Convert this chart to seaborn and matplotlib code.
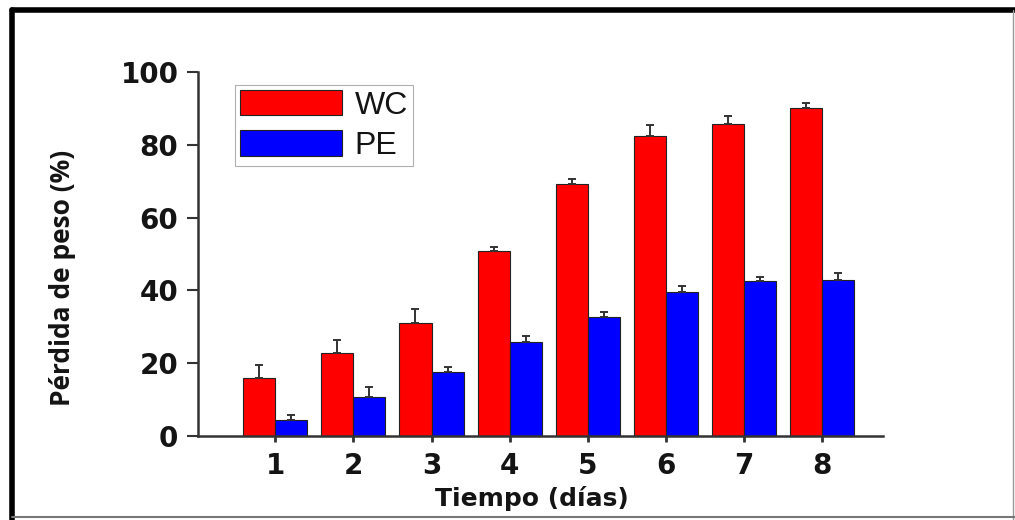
import matplotlib
matplotlib.use("Agg")
import matplotlib.pyplot as plt
import seaborn as sns
import pandas as pd
import numpy as np
from matplotlib.lines import Line2D

# ---- data ----
dias = ["1", "2", "3", "4", "5", "6", "7", "8"]
wc_vals = [15.9, 22.7, 31.0, 50.7, 69.3, 82.5, 85.8, 90.1]
wc_err = [3.6, 3.6, 3.8, 1.3, 1.4, 3.0, 2.1, 1.4]
pe_vals = [4.4, 10.7, 17.5, 25.8, 32.6, 39.7, 42.5, 43.0]
pe_err = [1.4, 2.7, 1.4, 1.6, 1.6, 1.4, 1.3, 1.7]
series = ["WC", "PE"]
yticks = [0, 20, 40, 60, 80, 100]

df = pd.DataFrame({
    "Tiempo": dias * 2,
    "Serie": [series[0]] * len(dias) + [series[1]] * len(dias),
    "valor": wc_vals + pe_vals,
})
errs = {series[0]: wc_err, series[1]: pe_err}

sns.set_theme(style="white")
plt.rcParams["font.family"] = ["DejaVu Sans"]

fig = plt.figure(figsize=(10.15, 5.2), dpi=100)
ax = fig.add_axes([0.195, 0.1615, 0.675, 0.700])

palette = {series[0]: "#ff0000", series[1]: "#0000ff"}
sns.barplot(data=df, x="Tiempo", y="valor", hue="Serie", order=dias,
            hue_order=series, palette=palette, width=0.82, saturation=1,
            edgecolor="#222222", linewidth=0.8, errorbar=None, ax=ax,
            legend=False)

# error bars (upper part only)
for cont, name in zip(ax.containers, series):
    xs = [b.get_x() + b.get_width() / 2 for b in cont]
    ys = [b.get_height() for b in cont]
    e = errs[name]
    ax.errorbar(xs, ys, yerr=[np.zeros(len(e)), e], fmt="none",
                ecolor="#333333", elinewidth=1.4, capsize=3, capthick=1.4,
                zorder=3)

ax.set_ylim(0, 100)
ax.set_xlim(-0.99, 7.78)
ax.set_yticks(yticks)
ax.set_yticklabels([str(t) for t in yticks])

for s in ["top", "right"]:
    ax.spines[s].set_visible(False)
for s in ["left", "bottom"]:
    ax.spines[s].set_color("#333333")
    ax.spines[s].set_linewidth(1.8)

ax.tick_params(axis="y", direction="out", length=8, width=1.5, color="#333333",
               pad=6, labelsize=20, left=True)
ax.tick_params(axis="x", direction="out", length=4.5, width=2, color="#333333",
               pad=7, labelsize=20, bottom=True)
for lab in ax.get_xticklabels() + ax.get_yticklabels():
    lab.set_fontweight("bold")
    lab.set_color("#141414")

ax.set_xlabel("Tiempo (días)", fontsize=18, fontweight="bold", color="#141414")
ax.xaxis.set_label_coords(0.488, -0.173)
ax.xaxis.label.set_va("center")

ax.set_ylabel("Pérdida de peso (%)", fontsize=19, fontweight="bold",
              family=["Open Sans", "DejaVu Sans"], color="#141414")
ax.yaxis.set_label_coords(-0.198, 0.434)
ax.yaxis.label.set_va("center")

handles = [plt.Rectangle((0, 0), 1, 1, facecolor=palette[s], edgecolor="#222222",
                         linewidth=0.8) for s in series]
leg = ax.legend(handles, series, loc="upper left", bbox_to_anchor=(0.054, 0.964),
                borderaxespad=0, frameon=True, fancybox=False, framealpha=1,
                edgecolor="#b0b0b0", prop={"family": ["Liberation Sans", "DejaVu Sans"], "size": 23},
                handlelength=3.2, handleheight=0.85, handletextpad=0.4,
                labelspacing=0.3, borderpad=0.15)
leg.get_frame().set_linewidth(0.8)
for t in leg.get_texts():
    t.set_color("#141414")

# figure border (thick black top/left, thin grey right/bottom)
fig.add_artist(Line2D([12 / 1015, 1], [1 - 10 / 520, 1 - 10 / 520],
                      transform=fig.transFigure, color="black", linewidth=4))
fig.add_artist(Line2D([12 / 1015, 12 / 1015], [0, 1 - 10 / 520],
                      transform=fig.transFigure, color="black", linewidth=4))
fig.add_artist(Line2D([1013 / 1015, 1013 / 1015], [0, 1 - 10 / 520],
                      transform=fig.transFigure, color="#999999", linewidth=1))
fig.add_artist(Line2D([12 / 1015, 1], [3 / 520, 3 / 520],
                      transform=fig.transFigure, color="#777777", linewidth=1.5))

fig.savefig("out.png", dpi=100)
